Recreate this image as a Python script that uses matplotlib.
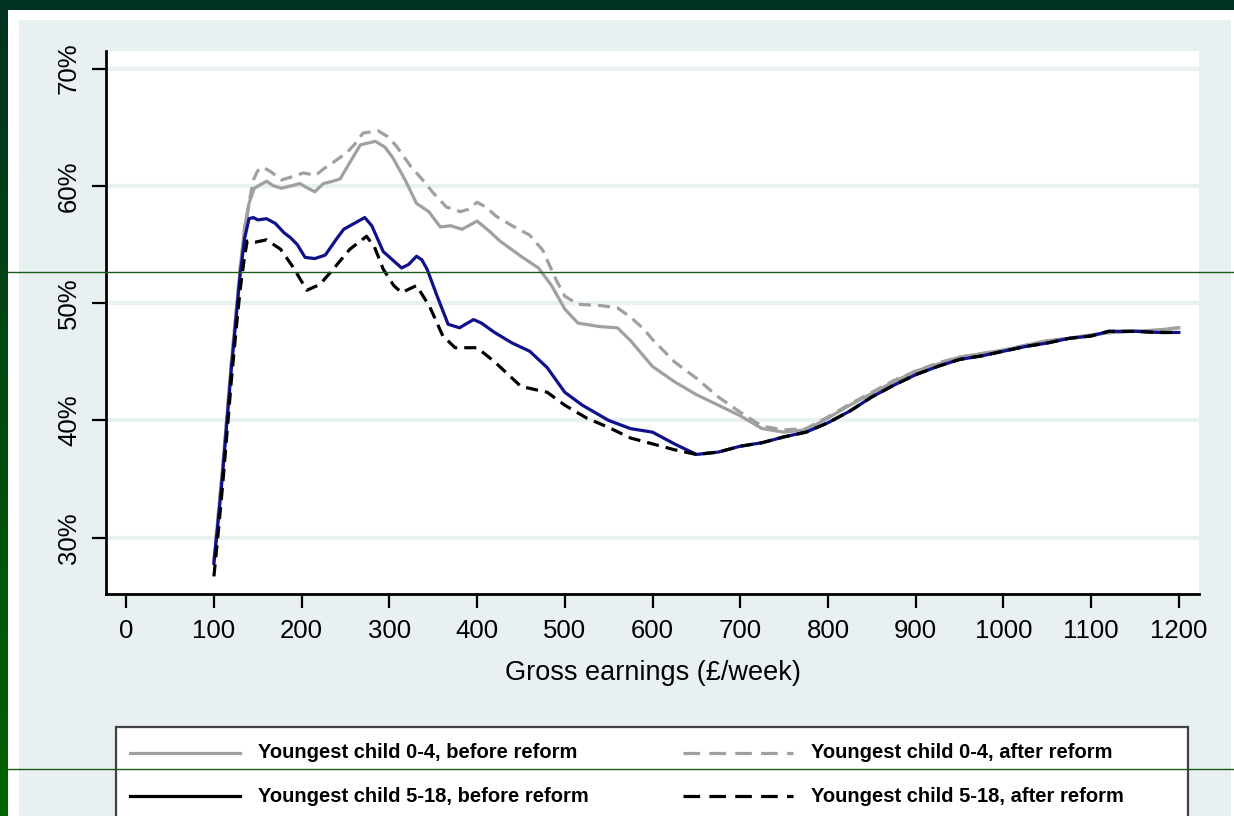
import numpy as np
import matplotlib.pyplot as plt
from matplotlib.patches import Rectangle
from matplotlib.lines import Line2D
from matplotlib.colors import LinearSegmentedColormap

plt.rcParams['font.family'] = ['Liberation Sans', 'DejaVu Sans']

# Participation tax rate by gross earnings
x_young_before = [100, 105, 110, 115, 120, 125, 130, 135, 140, 146, 153, 160, 168, 177, 188, 198,
                  207, 215, 225, 236, 244, 255, 267, 284, 295, 304, 318, 331, 345, 358, 370, 383,
                  400, 413, 426, 450, 470, 485, 500, 515, 540, 560, 575, 600, 625, 650, 675, 700,
                  725, 750, 775, 800, 825, 850, 875, 900, 925, 950, 975, 1000, 1025, 1050, 1075,
                  1100, 1125, 1150, 1175, 1200]
y_young_before = [28.0, 32.0, 36.0, 40.5, 45.0, 49.0, 53.0, 56.5, 58.5, 59.8, 60.1, 60.4, 60.0, 59.8,
                  60.0, 60.2, 59.8, 59.5, 60.2, 60.4, 60.6, 62.0, 63.5, 63.8, 63.3, 62.4, 60.5, 58.5,
                  57.8, 56.5, 56.6, 56.3, 57.0, 56.2, 55.3, 54.0, 53.0, 51.5, 49.5, 48.3, 48.0, 47.9,
                  46.8, 44.6, 43.3, 42.2, 41.3, 40.4, 39.3, 39.0, 39.2, 40.2, 41.3, 42.3, 43.3, 44.2,
                  44.8, 45.4, 45.7, 46.0, 46.4, 46.8, 47.0, 47.3, 47.5, 47.6, 47.7, 47.9]

x_young_after = [100, 105, 110, 115, 120, 125, 130, 135, 140, 145, 150, 156, 165, 177, 190, 202,
                 216, 226, 236, 251, 260, 270, 287, 298, 308, 324, 338, 350, 365, 381, 390, 400,
                 410, 422, 440, 460, 475, 490, 500, 515, 540, 560, 575, 590, 600, 625, 650, 675,
                 700, 725, 750, 775, 800, 825, 850, 875, 900, 925, 950, 975, 1000, 1025, 1050,
                 1075, 1100, 1125, 1150, 1175, 1200]
y_young_after = [28.0, 32.0, 36.0, 40.5, 45.0, 49.0, 53.0, 56.0, 58.5, 60.5, 61.3, 61.6, 61.2, 60.5,
                 60.8, 61.1, 60.9, 61.5, 62.0, 62.8, 63.5, 64.5, 64.7, 64.2, 63.4, 61.7, 60.5, 59.4,
                 58.2, 57.8, 58.0, 58.6, 58.2, 57.4, 56.6, 55.8, 54.5, 52.0, 50.6, 49.9, 49.8, 49.6,
                 48.8, 47.8, 46.9, 45.0, 43.6, 42.0, 40.7, 39.5, 39.2, 39.3, 40.3, 41.4, 42.4, 43.4,
                 44.2, 44.9, 45.4, 45.7, 46.0, 46.4, 46.8, 47.0, 47.3, 47.5, 47.6, 47.7, 47.9]

x_old_before = [100, 105, 110, 115, 120, 125, 130, 135, 140, 145, 150, 160, 170, 180, 187, 195,
                204, 215, 227, 240, 248, 260, 272, 280, 293, 305, 314, 322, 331, 337, 343, 355,
                367, 380, 396, 405, 420, 440, 460, 480, 500, 520, 550, 575, 600, 625, 650, 675,
                700, 725, 750, 775, 800, 825, 850, 875, 900, 925, 950, 975, 1000, 1025, 1050,
                1075, 1100, 1120, 1150, 1175, 1200]
y_old_before = [27.8, 31.5, 35.5, 40.0, 44.5, 48.5, 52.5, 55.5, 57.2, 57.3, 57.1, 57.2, 56.8, 56.0,
                55.6, 55.0, 53.9, 53.8, 54.1, 55.5, 56.3, 56.8, 57.3, 56.6, 54.4, 53.6, 53.0, 53.3,
                54.0, 53.7, 52.9, 50.5, 48.2, 47.9, 48.6, 48.3, 47.5, 46.6, 45.9, 44.5, 42.4, 41.3,
                40.0, 39.3, 39.0, 38.0, 37.1, 37.3, 37.8, 38.1, 38.6, 39.0, 39.8, 40.8, 42.0, 43.0,
                43.9, 44.6, 45.2, 45.5, 45.9, 46.3, 46.6, 47.0, 47.2, 47.6, 47.6, 47.5, 47.5]

x_old_after = [100, 105, 110, 115, 120, 125, 130, 135, 138, 147, 160, 176, 190, 206, 221, 236,
               255, 274, 283, 293, 305, 314, 331, 346, 361, 375, 400, 420, 450, 480, 500, 525,
               550, 575, 600, 625, 650, 675, 700, 725, 750, 775, 800, 825, 850, 875, 900, 925,
               950, 975, 1000, 1025, 1050, 1075, 1100, 1120, 1150, 1175, 1200]
y_old_after = [26.7, 30.5, 34.5, 39.0, 43.5, 47.5, 51.2, 54.0, 55.3, 55.2, 55.4, 54.6, 53.1, 51.1,
               51.6, 52.9, 54.6, 55.7, 54.8, 52.9, 51.5, 50.9, 51.5, 49.7, 47.2, 46.2, 46.2, 45.0,
               42.9, 42.4, 41.3, 40.2, 39.4, 38.5, 38.0, 37.5, 37.1, 37.3, 37.8, 38.1, 38.6, 39.0,
               39.8, 40.8, 42.0, 43.0, 43.9, 44.6, 45.2, 45.5, 45.9, 46.3, 46.6, 47.0, 47.2, 47.6,
               47.6, 47.5, 47.5]

x_ticks = list(range(0, 1201, 100))
y_ticks = [30, 40, 50, 60, 70]
legend_labels = ["Youngest child 0-4, before reform", "Youngest child 0-4, after reform",
                 "Youngest child 5-18, before reform", "Youngest child 5-18, after reform"]

W, H = 1234, 816
fig = plt.figure(figsize=(W / 100, H / 100), dpi=100, facecolor='white')

# slide frame: dark top band, green gradient strip on the left, light panel
panel_col = '#e8f0f2'
fig.patches.append(Rectangle((0, 1 - 10 / H), 1, 10 / H, transform=fig.transFigure,
                             facecolor='#00321f', edgecolor='none', zorder=-5))
fig.patches.append(Rectangle((19 / W, 0), (1231 - 19) / W, (H - 20) / H, transform=fig.transFigure,
                             facecolor=panel_col, edgecolor='none', zorder=-5))
gax = fig.add_axes([0, 0, 8 / W, 1 - 10 / H])
grad = np.linspace(0, 1, 256).reshape(-1, 1)
cm = LinearSegmentedColormap.from_list('g', ['#00341f', '#006400'])
gax.imshow(grad, aspect='auto', cmap=cm)
gax.axis('off')

ax = fig.add_axes([106 / W, 1 - 594 / H, (1199 - 106) / W, (594 - 51) / H])
ax.set_facecolor('white')

lw = 2.3
dash_plot = (3.8, 2.2)
ax.plot(x_young_before, y_young_before, color='#a0a0a0', lw=lw, zorder=3)
ax.plot(x_young_after, y_young_after, color='#a0a0a0', lw=lw, dashes=dash_plot, zorder=4)
ax.plot(x_old_before, y_old_before, color='#10108a', lw=lw, zorder=5)
ax.plot(x_old_after, y_old_after, color='black', lw=lw, dashes=dash_plot, zorder=6)

ax.set_xlim(-23, 1223)
ax.set_ylim(25.2, 71.5)
ax.set_xticks(x_ticks)
ax.set_yticks(y_ticks)
ax.set_yticklabels([f"{v}%" for v in y_ticks], rotation=90, va='center')
ax.grid(axis='y', color=panel_col, lw=3, zorder=1)
ax.set_axisbelow(True)
for s in ['top', 'right']:
    ax.spines[s].set_visible(False)
for s in ['left', 'bottom']:
    ax.spines[s].set_linewidth(2)
ax.tick_params(length=10, width=1.6, labelsize=18.5, pad=8)
ax.set_xlabel("Gross earnings (£/week)", fontsize=19.5, labelpad=12)

# slide artefact lines
for yy in [272, 769]:
    fig.add_artist(Line2D([8 / W, 1], [1 - yy / H] * 2, transform=fig.transFigure,
                          color='#1a5c1a', lw=1, zorder=20))

# legend box
fig.patches.append(Rectangle((116 / W, -0.01), (1188 - 116) / W, 1 - 727 / H + 0.01,
                             transform=fig.transFigure, facecolor='white',
                             edgecolor='#404040', lw=1.6, zorder=2))
entries = [(130, 753, '#a0a0a0', None, legend_labels[0]),
           (683, 753, '#a0a0a0', (5.2, 2.9), legend_labels[1]),
           (130, 796, 'black', None, legend_labels[2]),
           (683, 796, 'black', (5.2, 2.9), legend_labels[3])]
for x0, yy, col, dsh, lab in entries:
    ln = Line2D([x0 / W, (x0 + 110) / W], [1 - yy / H] * 2, transform=fig.transFigure,
                color=col, lw=lw, zorder=3)
    if dsh:
        ln.set_dashes(dsh)
    fig.add_artist(ln)
    fig.text((x0 + 128) / W, 1 - yy / H, lab, fontsize=14.5, fontweight='bold',
             va='center', ha='left', zorder=3)

fig.savefig("out.png", dpi=100, facecolor=fig.get_facecolor())
